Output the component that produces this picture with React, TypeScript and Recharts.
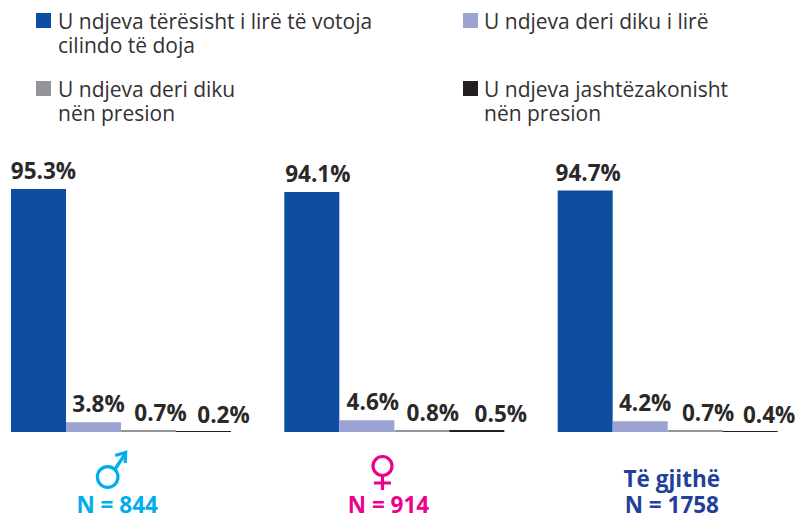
import { BarChart, Bar, XAxis, YAxis, Legend, LabelList } from "recharts";

const groups = ["Male", "Female", "Të gjithë"];
const sampleLabels = ["N = 844", "N = 914", "N = 1758"];
const groupColors = ["#00aeef", "#ec008c", "#233f9b"];

const totallyFree = [95.3, 94.1, 94.7];
const somewhatFree = [3.8, 4.6, 4.2];
const somewhatPressured = [0.7, 0.8, 0.7];
const veryPressured = [0.2, 0.5, 0.4];

const seriesNames = [
  "U ndjeva tërësisht i lirë të votoja\ncilindo të doja",
  "U ndjeva deri diku i lirë",
  "U ndjeva deri diku\nnën presion",
  "U ndjeva jashtëzakonisht\nnën presion",
];
const seriesColors = ["#0c4da2", "#9aa3d2", "#939598", "#231f20"];

const data = groups.map((group, i) => ({
  group,
  totallyFree: totallyFree[i],
  somewhatFree: somewhatFree[i],
  somewhatPressured: somewhatPressured[i],
  veryPressured: veryPressured[i],
}));

const FONT = '"Open Sans", sans-serif';

// the labels in the picture sit a bit right of their bars
const labelShift = [
  [5, 6, 3],
  [5, 6, 5],
  [12, 11, 13],
  [20, 24, 19],
];
const labelLift = [10, 10, 9, 8];

const legendSpots = [
  { left: 36, top: 13, textLeft: 58 },
  { left: 463, top: 13, textLeft: 484 },
  { left: 36, top: 81, textLeft: 58 },
  { left: 463, top: 81, textLeft: 484 },
];

function ChartLegend({ payload }: any) {
  return (
    <div style={{ position: "relative", width: 797, height: 130, fontFamily: FONT }}>
      {(payload || []).map((item: any, i: number) => (
        <div key={i}>
          <div
            style={{
              position: "absolute",
              left: legendSpots[i].left,
              top: legendSpots[i].top,
              width: 15,
              height: 15,
              background: item.color,
            }}
          />
          <div
            style={{
              position: "absolute",
              left: legendSpots[i].textLeft,
              top: legendSpots[i].top - 4,
              fontSize: 21,
              lineHeight: "24px",
              color: "#333133",
              whiteSpace: "pre",
              textAlign: "left",
            }}
          >
            {item.value}
          </div>
        </div>
      ))}
    </div>
  );
}

function GroupTick({ x, y, payload, index }: any) {
  const color = groupColors[index];
  const textStyle = { fontFamily: FONT, fontSize: 22.5, fontWeight: 700, fill: color };
  return (
    <g>
      {index === 0 && (
        <g fill="none" stroke={color} strokeWidth={3.2} transform={`translate(${x} ${y})`}>
          <circle cx={-12.5} cy={37} r={10.3} />
          <path d="M-5 29 L5.5 13 M-5 15.5 L5.5 12.5 L5 23" />
        </g>
      )}
      {index === 1 && (
        <g fill="none" stroke={color} strokeWidth={3.2} transform={`translate(${x} ${y})`}>
          <circle cx={-11} cy={26} r={9.5} />
          <path d="M-11 36 L-11 50 M-19.5 43 L-2.5 43" />
        </g>
      )}
      {index === 2 && (
        <text x={x + 5} y={y + 47} textAnchor="middle" {...textStyle}>
          {payload.value}
        </text>
      )}
      <text x={x + (index === 0 ? -3 : index === 1 ? -5 : 5)} y={y + 73} textAnchor="middle" {...textStyle}>
        {sampleLabels[index]}
      </text>
    </g>
  );
}

function makeLabel(series: number) {
  return function ValueLabel({ x, y, width, value, index }: any) {
    return (
      <text
        x={x + width / 2 + labelShift[series][index]}
        y={y - labelLift[series]}
        textAnchor="middle"
        fontFamily={FONT}
        fontSize={22.5}
        fontWeight={700}
        fill="#2b2829"
      >
        {Number(value).toFixed(1)}%
      </text>
    );
  };
}

const seriesKeys = ["totallyFree", "somewhatFree", "somewhatPressured", "veryPressured"];

// keeps the hairline bars visible, as in the picture
const thinBarSize = (value: number) => (value >= 0.5 ? 2 : 1);

export default function App() {
  return (
    <div style={{ position: "absolute", left: 0, top: 0, width: 797, height: 517, background: "#fff" }}>
      <BarChart
        width={797}
        height={517}
        data={data}
        barCategoryGap={27.5}
        barGap={0}
        margin={{ top: 177, right: -6.5, bottom: 0, left: -16.5 }}
      >
        <XAxis dataKey="group" axisLine={false} tickLine={false} height={85} interval={0} tick={<GroupTick />} />
        <YAxis hide domain={[0, 100]} />
        <Legend
          layout="horizontal"
          verticalAlign="middle"
          align="center"
          itemSorter={null}
          wrapperStyle={{ left: 0, top: 0, width: 797, height: 130 }}
          content={<ChartLegend />}
        />
        {seriesKeys.map((key, i) => (
          <Bar
            key={key}
            dataKey={key}
            name={seriesNames[i]}
            fill={seriesColors[i]}
            minPointSize={thinBarSize}
            isAnimationActive={false}
          >
            <LabelList dataKey={key} content={makeLabel(i)} />
          </Bar>
        ))}
      </BarChart>
    </div>
  );
}
